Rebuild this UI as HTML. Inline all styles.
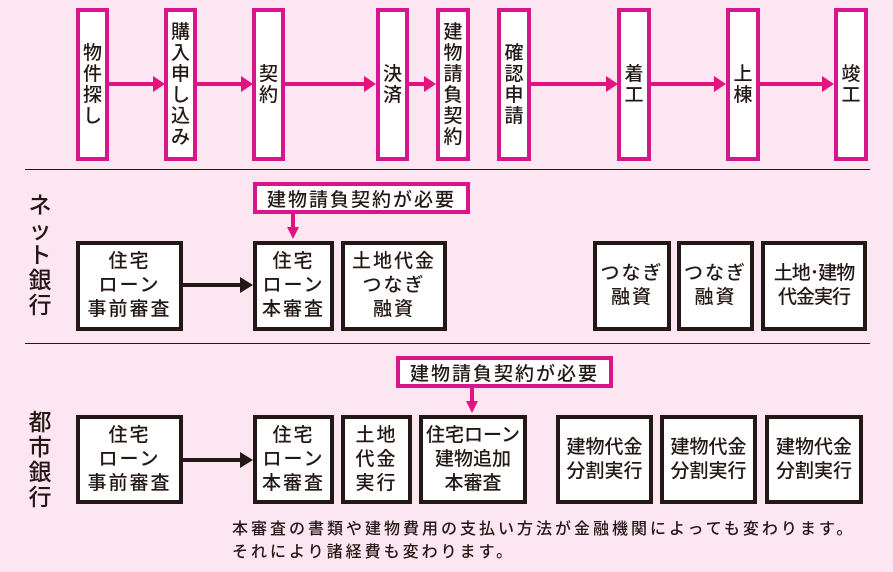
<!DOCTYPE html>
<html><head><meta charset="utf-8"><style>
body{margin:0;width:893px;height:572px;background:#fce6f1;position:relative;overflow:hidden;font-family:"Liberation Sans","Noto Sans CJK JP",sans-serif;color:#231815;font-weight:500}
.b{position:absolute;box-sizing:border-box;background:#fff;display:flex;align-items:center;justify-content:center;text-align:center}
.m{border:4px solid #d6168a;font-size:19px;line-height:21px}
.k{border:4px solid #231815;font-size:19px;line-height:24px;letter-spacing:2px}
.c{border:4px solid #d6168a;font-size:19px;letter-spacing:2px}
.h{position:absolute;height:4px;background:#e4127f}
.ah{position:absolute;width:0;height:0;border-top:8px solid transparent;border-bottom:8px solid transparent;border-left:12px solid #e4127f}
.line{position:absolute;height:1px;background:#231815}
.lab{position:absolute;font-size:23px;line-height:25px;width:30px;text-align:center}
</style></head><body>
<div class="b m" style="left:76px;top:8px;width:33px;height:153px">物<br>件<br>探<br>し</div>
<div class="b m" style="left:164px;top:8px;width:33px;height:153px">購<br>入<br>申<br>し<br>込<br>み</div>
<div class="b m" style="left:252px;top:8px;width:33px;height:153px">契<br>約</div>
<div class="b m" style="left:376px;top:8px;width:33px;height:153px">決<br>済</div>
<div class="b m" style="left:436px;top:8px;width:34px;height:153px">建<br>物<br>請<br>負<br>契<br>約</div>
<div class="b m" style="left:497px;top:8px;width:34px;height:153px">確<br>認<br>申<br>請</div>
<div class="b m" style="left:617px;top:8px;width:34px;height:153px">着<br>工</div>
<div class="b m" style="left:726px;top:8px;width:34px;height:153px">上<br>棟</div>
<div class="b m" style="left:834px;top:8px;width:34px;height:153px">竣<br>工</div>
<div class="h" style="left:109px;top:82px;width:45px"></div><div class="ah" style="left:153px;top:76px"></div>
<div class="h" style="left:197px;top:82px;width:45px"></div><div class="ah" style="left:241px;top:76px"></div>
<div class="h" style="left:285px;top:82px;width:80px"></div><div class="ah" style="left:364px;top:76px"></div>
<div class="h" style="left:409px;top:82px;width:16px"></div><div class="ah" style="left:424px;top:76px"></div>
<div class="h" style="left:531px;top:82px;width:76px"></div><div class="ah" style="left:606px;top:76px"></div>
<div class="h" style="left:651px;top:82px;width:64px"></div><div class="ah" style="left:714px;top:76px"></div>
<div class="h" style="left:760px;top:82px;width:63px"></div><div class="ah" style="left:822px;top:76px"></div>
<div class="line" style="left:25px;top:169px;width:845px"></div>
<div class="line" style="left:25px;top:343px;width:845px"></div>
<div class="lab" style="left:25px;top:193px">ネ<br>ッ<br>ト<br>銀<br>行</div>
<div class="lab" style="left:25px;top:410px">都<br>市<br>銀<br>行</div>
<div class="b c" style="left:253px;top:182px;width:217px;height:32px">建物請負契約が必要</div>
<div style="position:absolute;left:291px;top:214px;width:4px;height:14px;background:#e4127f"></div>
<div style="position:absolute;left:287px;top:227px;border-left:6px solid transparent;border-right:6px solid transparent;border-top:12px solid #e4127f"></div>
<div class="b k" style="left:76px;top:241px;width:107px;height:90px">住宅<br>ローン<br>事前審査</div>
<div style="position:absolute;left:183px;top:283px;width:58px;height:4px;background:#231815"></div>
<div style="position:absolute;left:240px;top:277px;border-top:8px solid transparent;border-bottom:8px solid transparent;border-left:13px solid #231815"></div>
<div class="b k" style="left:253px;top:241px;width:81px;height:90px">住宅<br>ローン<br>本審査</div>
<div class="b k" style="left:341px;top:241px;width:106px;height:90px">土地代金<br>つなぎ<br>融資</div>
<div class="b k" style="left:593px;top:241px;width:78px;height:90px">つなぎ<br>融資</div>
<div class="b k" style="left:677px;top:241px;width:77px;height:90px">つなぎ<br>融資</div>
<div class="b k" style="left:761px;top:241px;width:106px;height:90px;letter-spacing:-1px">土地･建物<br>代金実行</div>
<div class="b c" style="left:396px;top:356px;width:217px;height:32px">建物請負契約が必要</div>
<div style="position:absolute;left:470px;top:388px;width:4px;height:14px;background:#e4127f"></div>
<div style="position:absolute;left:466px;top:401px;border-left:6px solid transparent;border-right:6px solid transparent;border-top:12px solid #e4127f"></div>
<div class="b k" style="left:76px;top:415px;width:107px;height:89px">住宅<br>ローン<br>事前審査</div>
<div style="position:absolute;left:183px;top:458px;width:58px;height:4px;background:#231815"></div>
<div style="position:absolute;left:240px;top:452px;border-top:8px solid transparent;border-bottom:8px solid transparent;border-left:13px solid #231815"></div>
<div class="b k" style="left:253px;top:415px;width:81px;height:89px">住宅<br>ローン<br>本審査</div>
<div class="b k" style="left:341px;top:415px;width:71px;height:89px">土地<br>代金<br>実行</div>
<div class="b k" style="left:419px;top:415px;width:108px;height:89px;letter-spacing:0">住宅ローン<br>建物追加<br>本審査</div>
<div class="b k" style="left:556px;top:415px;width:97px;height:89px;letter-spacing:0">建物代金<br>分割実行</div>
<div class="b k" style="left:660px;top:415px;width:97px;height:89px;letter-spacing:0">建物代金<br>分割実行</div>
<div class="b k" style="left:765px;top:415px;width:98px;height:89px;letter-spacing:0">建物代金<br>分割実行</div>
<div style="position:absolute;left:232px;top:518px;font-size:16px;line-height:23px;letter-spacing:3px;white-space:nowrap">本審査の書類や建物費用の支払い方法が金融機関によっても変わります。<br>それにより諸経費も変わります。</div>
</body></html>
